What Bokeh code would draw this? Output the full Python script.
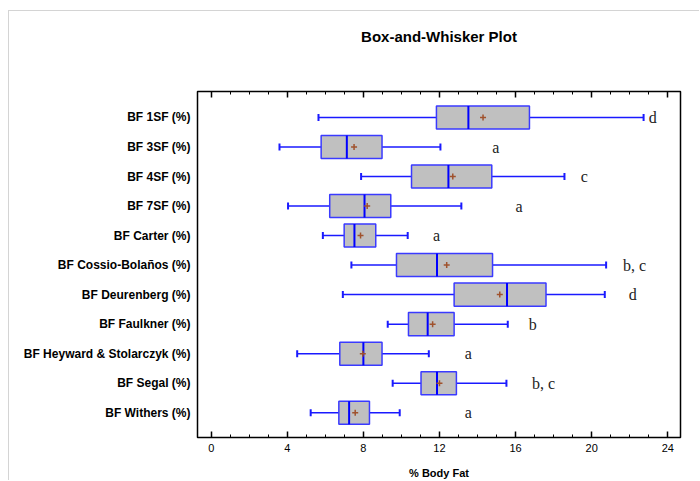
import numpy as np
from bokeh.plotting import figure
from bokeh.models import (Range1d, FixedTicker, SingleIntervalTicker, LinearAxis,
                          ColumnDataSource, GlobalInlineStyleSheet,
                          CustomJSTickFormatter)
from bokeh.core.properties import value
from bokeh.embed import file_html
from bokeh.resources import INLINE

# ---- data ----
labels = ["BF 1SF (%)", "BF 3SF (%)", "BF 4SF (%)", "BF 7SF (%)", "BF Carter (%)",
          "BF Cossio-Bolaños (%)", "BF Deurenberg (%)", "BF Faulkner (%)",
          "BF Heyward & Stolarczyk (%)", "BF Segal (%)", "BF Withers (%)"]
wmin = [5.64, 3.59, 7.88, 4.04, 5.87, 7.37, 6.92, 9.28, 4.52, 9.54, 5.23]
q1 = [11.84, 5.78, 10.53, 6.23, 6.99, 9.74, 12.77, 10.37, 6.76, 11.03, 6.71]
med = [13.52, 7.13, 12.47, 8.06, 7.53, 11.87, 15.55, 11.38, 8.00, 11.87, 7.25]
mean = [14.29, 7.51, 12.70, 8.20, 7.85, 12.38, 15.17, 11.64, 7.97, 12.00, 7.57]
q3 = [16.73, 8.98, 14.75, 9.44, 8.65, 14.79, 17.60, 12.77, 8.98, 12.89, 8.32]
wmax = [22.73, 12.05, 18.57, 13.15, 10.33, 20.76, 20.69, 15.59, 11.44, 15.52, 9.91]
groups = ["d", "a", "c", "a", "a", "b, c", "d", "b", "a", "b, c", "a"]
group_x = [23.0, 14.77, 19.42, 15.99, 11.66, 21.65, 21.95, 16.69, 13.33, 16.87, 13.33]
title_text = "Box-and-Whisker Plot"
x_label = "% Body Fat"
x_ticks_interval = 4

ypos = list(range(1, len(labels) + 1))
box_h = 0.78

src = ColumnDataSource(dict(y=ypos, wmin=wmin, q1=q1, med=med, mean=mean, q3=q3,
                            wmax=wmax, g=groups, gx=group_x,
                            ylo=[v - box_h / 2 for v in ypos],
                            yhi=[v + box_h / 2 for v in ypos]))

x0, x1 = -0.72, 24.67
p = figure(width=691, height=470, output_backend="svg", toolbar_location=None,
           x_range=Range1d(x0, x1), y_range=Range1d(11.84, 0.12),
           min_border_left=188, min_border_right=20, min_border_top=80,
           min_border_bottom=44)
p.stylesheets = [GlobalInlineStyleSheet(
    css="html,body{overflow:hidden;margin:0;padding:0;background:white;}")]
p.styles = {"margin-left": "8px", "margin-top": "10px",
            "border-top": "1px solid #d4d4d4", "border-left": "1px solid #d4d4d4"}

p.title.text = title_text
p.title.align = "center"
p.title.text_font = "Liberation Sans"
p.title.text_font_size = "15px"
p.title.text_font_style = "bold"
p.title.text_color = "black"

p.xgrid.visible = False
p.ygrid.visible = False
p.outline_line_color = "black"
p.outline_line_width = 1.5
p.background_fill_color = "white"
p.border_fill_color = "white"

blue = "#1a1aff"
# whiskers
p.segment(x0="wmin", x1="q1", y0="y", y1="y", source=src, line_color=blue, line_width=1.5)
p.segment(x0="q3", x1="wmax", y0="y", y1="y", source=src, line_color=blue, line_width=1.5)
p.scatter(x="wmin", y="y", source=src, marker="dash", angle=np.pi / 2, size=7,
          line_color=blue, line_width=2)
p.scatter(x="wmax", y="y", source=src, marker="dash", angle=np.pi / 2, size=7,
          line_color=blue, line_width=2)
# boxes
p.hbar(y="y", left="q1", right="q3", height=box_h, source=src,
       fill_color="#c0c0c0", line_color="#3a3aff", line_width=1.5)
# median
p.segment(x0="med", x1="med", y0="ylo", y1="yhi", source=src, line_color="#0000ff", line_width=2)
# mean
p.scatter(x="mean", y="y", source=src, marker="cross", size=6,
          line_color="#a0522d", line_width=1.5)
# group letters
p.text(x="gx", y="y", text="g", source=src, text_font=value("Liberation Serif"),
       text_font_size="16px", text_color="#222222", text_baseline="middle",
       text_align="left")

# bottom axis
xa = p.xaxis[0]
xa.ticker = SingleIntervalTicker(interval=x_ticks_interval, num_minor_ticks=4)
xa.axis_line_color = None
xa.major_tick_in = 6
xa.major_tick_out = 0
xa.minor_tick_in = 3
xa.minor_tick_out = 0
xa.major_tick_line_color = "black"
xa.minor_tick_line_color = "black"
xa.major_tick_line_width = 1.5
xa.minor_tick_line_width = 1
xa.major_label_text_font = "Liberation Sans"
xa.major_label_text_font_size = "11px"
xa.major_label_text_color = "black"
xa.major_label_standoff = 6
xa.axis_label = x_label
xa.axis_label_text_font = "Liberation Sans"
xa.axis_label_text_font_size = "11px"
xa.axis_label_text_font_style = "bold"
xa.axis_label_text_color = "black"
xa.axis_label_standoff = 12

# top mirrored axis (ticks only)
empty = CustomJSTickFormatter(code="return '';")
ta = LinearAxis(ticker=SingleIntervalTicker(interval=x_ticks_interval, num_minor_ticks=4),
                formatter=empty)
ta.axis_line_color = None
ta.major_tick_in = 6
ta.major_tick_out = 0
ta.minor_tick_in = 3
ta.minor_tick_out = 0
ta.major_tick_line_width = 1.5
ta.major_label_standoff = 0
p.add_layout(ta, "above")

# invisible spacer axis pushing the title upward
spacer = LinearAxis(ticker=FixedTicker(ticks=[12]), formatter=empty)
spacer.axis_line_color = None
spacer.major_tick_line_color = None
spacer.minor_tick_line_color = None
spacer.major_tick_in = 0
spacer.major_tick_out = 42
spacer.major_label_standoff = 0
p.add_layout(spacer, "above")

# left axis: category labels
ya = p.yaxis[0]
ya.ticker = FixedTicker(ticks=ypos)
ya.major_label_overrides = {i: lab for i, lab in zip(ypos, labels)}
ya.axis_line_color = None
ya.major_tick_line_color = None
ya.minor_tick_line_color = None
ya.major_tick_out = 0
ya.major_tick_in = 0
ya.major_label_standoff = 7
ya.major_label_text_font = "Liberation Sans"
ya.major_label_text_font_size = "12px"
ya.major_label_text_font_style = "bold"
ya.major_label_text_color = "black"

open("out.html", "w").write(file_html(p, INLINE))
